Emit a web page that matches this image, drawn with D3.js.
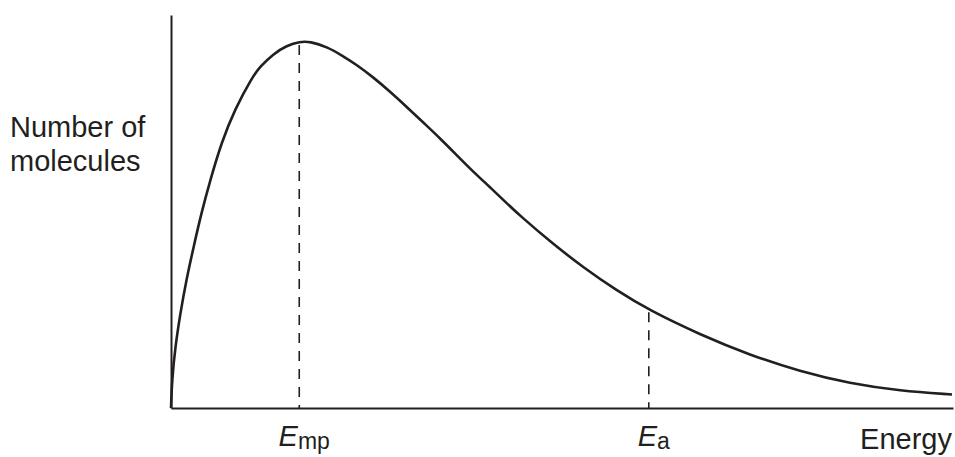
<!DOCTYPE html>
<html>
<head>
<meta charset="utf-8">
<script src="https://cdn.jsdelivr.net/npm/d3@7"></script>
<style>
  body { margin: 0; background: #fff; }
  text { font-family: "Liberation Sans", Arial, sans-serif; fill: #231f20; }
</style>
</head>
<body>
<div class="chart-container"></div>
<script>
//! CONSTS
const WIDTH = 955
const HEIGHT = 457
const INK = '#231f20'

//! DATA (arbitrary units)
const energy = [0, 0.13, 0.55, 1.19, 1.96, 2.90, 3.87, 5.03, 6.48, 8.18, 10.32, 11.38, 13.08, 14.80,
  16.50, 17.77, 19.91, 22.03, 23.75, 25.87, 28.01, 30.14, 32.26, 34.40, 36.53, 38.66, 40.79, 42.93,
  44.63, 48.47, 52.72, 56.99, 61.13, 67.65, 74.04, 80.43, 86.83, 93.22, 99.87]
const molecules = [0, 7.7, 16.8, 25.9, 35.1, 44.2, 53.3, 62.5, 72.9, 81.9, 90.4, 93.5, 97.0, 99.3,
  100.4, 100.4, 99.0, 96.4, 94.0, 90.6, 86.7, 82.5, 78.2, 73.9, 69.3, 64.7, 60.5, 56.1,
  52.7, 45.6, 38.5, 32.2, 26.8, 20.1, 14.5, 10.0, 6.7, 4.7, 3.7]
const markerSubs = ['mp', 'a']
const markerEnergy = [16.4, 61.1]
const markerHeight = [100, 26.8]
const yLabel = ['Number of', 'molecules']
const xLabel = 'Energy'

//! SVG
const svg = d3.select('.chart-container')
  .append('svg')
  .attr('width', WIDTH)
  .attr('height', HEIGHT)

//! SCALES
const x = d3.scaleLinear().domain([0, 100]).range([171, 953])
const y = d3.scaleLinear().domain([0, 100]).range([408, 43])

// axes, no ticks
svg.append('g')
  .attr('transform', `translate(${x(0)},0)`)
  .call(d3.axisLeft(d3.scaleLinear().domain([0, 107.7]).range([y(0), y(107.7)])).ticks(0).tickSizeOuter(0))
  .call(g => g.select('.domain').attr('stroke', INK).attr('stroke-width', 2))

svg.append('g')
  .attr('transform', `translate(0,${y(0)})`)
  .call(d3.axisBottom(x).ticks(0).tickSizeOuter(0))
  .call(g => g.select('.domain').attr('stroke', INK).attr('stroke-width', 2.2))

// dashed drop lines
svg.selectAll('.drop')
  .data(markerEnergy)
  .enter()
  .append('line')
  .attr('class', 'drop')
  .attr('x1', d => x(d)).attr('x2', d => x(d))
  .attr('y1', (d, i) => y(markerHeight[i]) + 2)
  .attr('y2', y(0))
  .attr('stroke', INK)
  .attr('stroke-width', 1.6)
  .attr('stroke-dasharray', '10,8')

// the curve
const line = d3.line()
  .x((d, i) => x(energy[i]))
  .y(d => y(d))
  .curve(d3.curveBasis)

svg.append('path')
  .datum(molecules)
  .attr('d', line)
  .attr('fill', 'none')
  .attr('stroke', INK)
  .attr('stroke-width', 2.6)
  .attr('stroke-linejoin', 'round')

// E labels
const lab = svg.selectAll('.elab')
  .data(markerEnergy)
  .enter()
  .append('text')
  .attr('class', 'elab')
  .attr('x', d => x(d) + 5)
  .attr('y', 446)
  .attr('text-anchor', 'middle')
  .style('font-size', '29px')

lab.append('tspan').attr('font-style', 'italic').text('E')
lab.append('tspan')
  .attr('dy', 3)
  .style('font-size', '23px')
  .text((d, i) => markerSubs[i])

svg.append('text')
  .attr('x', 952)
  .attr('y', 449)
  .attr('text-anchor', 'end')
  .style('font-size', '29px')
  .text(xLabel)

svg.selectAll('.ylab')
  .data(yLabel)
  .enter()
  .append('text')
  .attr('class', 'ylab')
  .attr('x', 10)
  .attr('y', (d, i) => 137 + i * 34)
  .style('font-size', '29px')
  .text(d => d)
</script>
</body>
</html>
